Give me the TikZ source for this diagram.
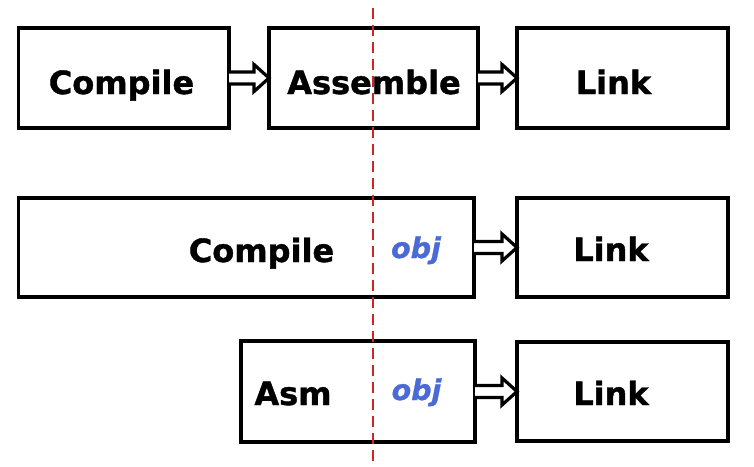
\documentclass[tikz,border=0pt]{standalone}
\usepackage{fontspec}
\setmainfont{DejaVu Sans}[BoldFont={DejaVu Sans Bold}, BoldItalicFont={DejaVu Sans Bold Oblique}, BoldFeatures={FakeBold=1.2}, BoldItalicFeatures={FakeBold=1}]
\usepackage{tikz}
\usetikzlibrary{calc}

\definecolor{objblue}{RGB}{74,106,214}
\definecolor{cutred}{RGB}{206,38,38}

\tikzset{
    box/.style={draw, line width=3.6pt, outer sep=0pt, inner sep=0pt, minimum height=100pt},
    lbl/.style={anchor=base, inner sep=0pt, font=\fontsize{32}{38}\selectfont\bfseries},
    objlbl/.style={anchor=base, inner sep=0pt, text=objblue, font=\fontsize{28.5}{34}\selectfont\bfseries\itshape},
    blockarr/.style={draw, fill=white, line width=3.2pt, line join=miter, to path={
        ($(\tikztostart)+(0pt,6pt)$) -- ($(\tikztotarget)+(-15pt,6pt)$) -- ($(\tikztotarget)+(-15pt,13.5pt)$)
        -- (\tikztotarget) -- ($(\tikztotarget)+(-15pt,-13.5pt)$) -- ($(\tikztotarget)+(-15pt,-6pt)$)
        -- ($(\tikztostart)+(0pt,-6pt)$)}},
    cutline/.style={draw=cutred, line width=2.5pt, dash pattern=on 11pt off 6pt}
}

\begin{document}
\begin{tikzpicture}[x=1pt, y=-1pt]
    \useasboundingbox (0,0) rectangle (754,466);

    % one step after the other
    \node[box, minimum width=210.5pt] (comp1) at (123.75,78) {};
    \node[box, minimum width=209pt] (asm1) at (373.5,78) {};
    \node[box, minimum width=211pt] (link1) at (622.5,78) {};
    \node[lbl] (comp1t) at (121.5,94) {Compile};
    \node[lbl] (asm1t) at (374,94) {Assemble};
    \node[lbl] (link1t) at (613.5,94) {Link};
    \draw[blockarr] (comp1.east) to (asm1.west);
    \draw[blockarr] (asm1.east) to (link1.west);

    % compiler emits the object file
    \node[box, minimum width=455.5pt, minimum height=99pt] (comp2) at (246.25,247.5) {};
    \node[box, minimum width=211pt, minimum height=99pt] (link2) at (622.5,247.5) {};
    \node[lbl] (comp2t) at (261.5,262) {Compile};
    \node[objlbl] (obj2) at (416,258) {obj};
    \node[lbl] (link2t) at (611,261) {Link};
    \draw[blockarr] (comp2.east) to (link2.west);

    % assembler alone
    \node[box, minimum width=234pt, minimum height=101pt] (asm3) at (358,391.5) {};
    \node[box, minimum width=211pt, minimum height=99pt] (link3) at (622.5,391.5) {};
    \node[lbl] (asm3t) at (293,405) {Asm};
    \node[objlbl] (obj3) at (416.5,400) {obj};
    \node[lbl] (link3t) at (611,405) {Link};
    \draw[blockarr] (asm3.east) to (link3.west);

    \coordinate (cuttop) at (373,8);
    \coordinate (cutbot) at (373,464);
    \draw[cutline] (cuttop) -- (cutbot);
\end{tikzpicture}
\end{document}
